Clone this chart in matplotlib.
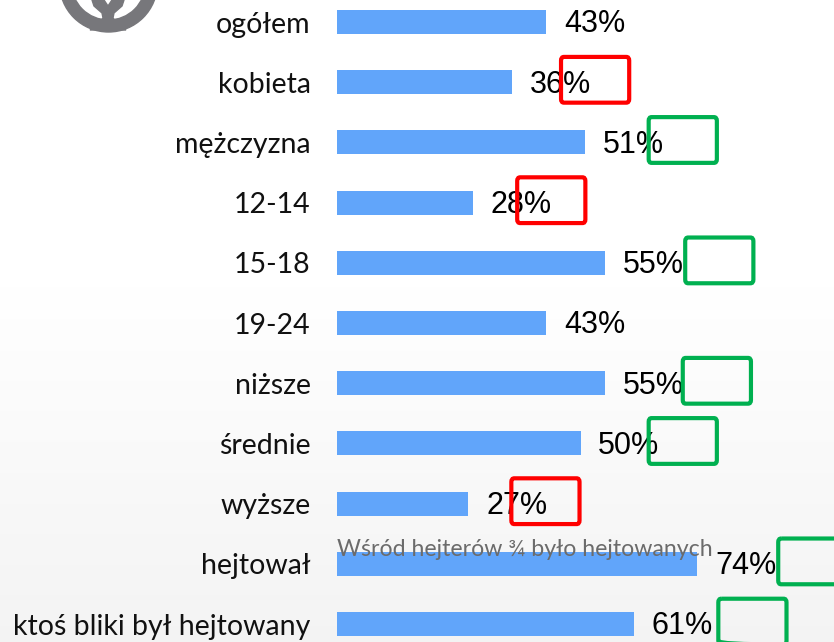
import numpy as np
import matplotlib
matplotlib.use("Agg")
import matplotlib.pyplot as plt
from matplotlib.patches import FancyBboxPatch, Wedge, Polygon

# ---------- data ----------
categories = ["ogółem", "kobieta", "mężczyzna", "12-14", "15-18", "19-24",
              "niższe", "średnie", "wyższe", "hejtował", "ktoś bliki był hejtowany"]
values = [43, 36, 51, 28, 55, 43, 55, 50, 27, 74, 61]
value_labels = [f"{v}%" for v in values]

# highlight boxes drawn next to the labels (left edge in % units)
box_left = [None, 46, 64, 37, 71.5, None, 71, 64, 35.8, 90.6, 78.3]
box_color = [None, "red", "green", "red", "green", None, "green", "green", "red", "green", "green"]

note_text = "Wśród hejterów ¾ było hejtowanych"

BAR = "#61a5fa"
RED = "#ff0000"
GREEN = "#00b050"

W, H = 834, 642
fig = plt.figure(figsize=(W / 100, H / 100), dpi=100)

# ---------- background gradient ----------
bg = fig.add_axes([0, 0, 1, 1], zorder=0)
t = np.linspace(0, 1, 256).reshape(-1, 1)
grad = np.where(t < 0.45, 1.0, 1.0 - (t - 0.45) / 0.55 * 0.045)
bg.imshow(np.dstack([grad, grad, grad]), aspect="auto", extent=[0, 1, 0, 1], origin="upper")
bg.axis("off")

# ---------- logo (partially cut at top) ----------
lg = fig.add_axes([0, 0, 1, 1], zorder=1)
lg.set_xlim(0, W)
lg.set_ylim(H, 0)
lg.axis("off")
lg.patch.set_alpha(0)
lg.add_patch(Wedge((108.5, -17), 49, 0, 180, width=12, color="#77777b"))
lg.add_patch(Polygon([(92, 0), (104, 0), (108, 6), (112, 0), (124, 0), (122, 6), (114, 13),
                      (113, 18), (118, 24), (126, 30), (90, 30), (98, 24), (103, 18),
                      (102, 13), (94, 6)], closed=True, color="#77777b"))

# ---------- bars ----------
x0 = 337 / W
ax = fig.add_axes([x0, 0, 1 - x0, 1], zorder=2)
ax.patch.set_alpha(0)
y = np.arange(len(categories))
ax.barh(y, values, height=0.4, color=BAR)
ax.set_xlim(0, (W - 337) / 4.87)
ax.set_ylim((H - 22) / 60.2, -22 / 60.2)

ax.set_yticks(y)
ax.set_yticklabels(categories, fontsize=20.5, family="Lato", color="#111111")
ax.tick_params(axis="y", length=0, pad=19)
ax.set_xticks([])
for s in ax.spines.values():
    s.set_visible(False)

for i, (v, lab) in enumerate(zip(values, value_labels)):
    ax.text(v + 3.6, i + 0.04, lab, va="center", ha="left", fontsize=22,
            family="Liberation Sans", color="black", zorder=4)

for i, (bx, bc) in enumerate(zip(box_left, box_color)):
    if bx is None:
        continue
    col = RED if bc == "red" else GREEN
    ax.add_patch(FancyBboxPatch((bx, i - 0.42), 14, 0.76,
                                boxstyle="round,pad=0,rounding_size=0.6",
                                fill=False, edgecolor=col, linewidth=3, zorder=5,
                                clip_on=False, mutation_aspect=0.1))

# note above the "hejtował" bar
ax.text(0, 8.93, note_text, va="bottom", ha="left", fontsize=16.7,
        family="Lato", color="#6b6b6b", zorder=3)

fig.savefig("out.png", dpi=100)
